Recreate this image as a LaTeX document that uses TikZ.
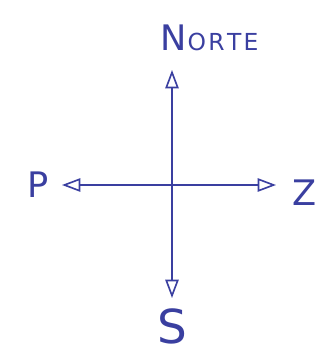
\documentclass[tikz,border=0pt]{standalone}
\usepackage{fontspec}
\setmainfont{DejaVu Sans}
\usetikzlibrary{arrows.meta,positioning}
\definecolor{ink}{HTML}{3A3FA0}
\tikzset{
  axis/.style={draw=ink, line width=1.8pt, {Triangle[open, length=5.5mm, width=4mm, line width=1.4pt]}-{Triangle[open, length=5.5mm, width=4mm, line width=1.4pt]}},
  lbl/.style={text=ink, inner sep=0pt, font=\fontsize{30}{32}\selectfont}
}
\begin{document}
\begin{tikzpicture}[x=0.03cm, y=-0.03cm]
  \useasboundingbox (0,0) rectangle (327,360);
  % ends of the two axes
  \coordinate (top) at (172,70);
  \coordinate (bot) at (172,298);
  \coordinate (west) at (62,185);
  \coordinate (east) at (276,185);
  \draw[axis] (top) -- (bot);
  \draw[axis] (west) -- (east);
  % labels
  \node[lbl, anchor=south west] (norte) at (160,51) {N\fontsize{20}{22}\selectfont\hspace{1pt}O\hspace{2pt}R\hspace{2pt}T\hspace{2pt}E};
  \node[lbl] (p) at (38,185) {P};
  \node[lbl] (z) at (305,193) {Z};
  \node[lbl, font=\fontsize{40}{42}\selectfont] (s) at (172,326) {S};
\end{tikzpicture}
\end{document}
